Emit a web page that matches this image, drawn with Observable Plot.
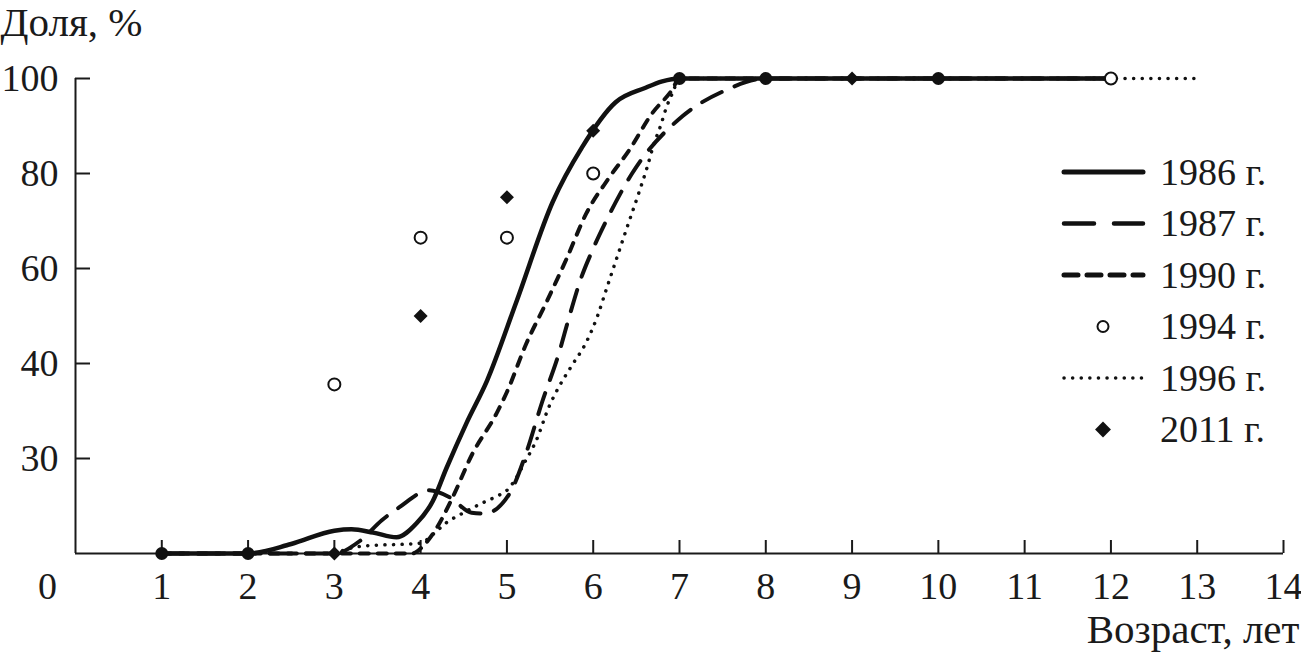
<!DOCTYPE html>
<html><head><meta charset="utf-8">
<script src="https://cdn.jsdelivr.net/npm/d3@7"></script>
<script src="https://cdn.jsdelivr.net/npm/@observablehq/plot@0.6"></script>
<style>
body{margin:0;background:#fff}
#chart{position:relative;width:1301px;height:660px}
</style>
</head><body><div id="chart"></div>
<script>
// ---- data ----
const xTicks = [1,2,3,4,5,6,7,8,9,10,11,12,13,14];
const yTickValues = [20,40,60,80,100];
const yTickLabels = ["30","40","60","80","100"];
const originLabel = "0";
const yTitle = "Доля, %";
const xTitle = "Возраст, лет";
const seriesNames = ["1986 г.","1987 г.","1990 г.","1994 г.","1996 г.","2011 г."];

const age1986 = [1,2,2.5,3,3.2,3.45,3.72,3.95,4.14,4.3,4.53,4.77,5.11,5.53,5.87,6.26,6.6,6.8,7,8,9,10,11,12];
const share1986 = [0,0,2,4.8,5.1,4.4,3.4,6.3,11,18,27.4,36.4,53,74,85.5,95,98,99.4,100,100,100,100,100,100];

const age1987 = [1,2,3,3.3,3.55,3.75,4.1,4.34,4.59,4.74,5.03,5.22,5.41,5.6,5.72,5.86,5.99,6.15,6.45,7.03,7.53,8,9,10,11,12];
const share1987 = [0,0,0,2.7,7,9.7,13.3,11.8,8.6,8.4,12.6,21,32,42,49.7,58,63.8,70,80,92,97.5,100,100,100,100,100];

const age1990 = [1,2,3,3.9,4.05,4.19,4.37,4.6,4.88,5.0,5.22,5.46,5.69,5.92,6.18,6.42,6.68,6.91,7,8,9,10,11,12];
const share1990 = [0,0,0,0,2,5.5,11.8,21,29.5,34,44,53,62,71.6,79,85,92.6,97.5,100,100,100,100,100,100];

const age1996 = [3,3.3,4,4.14,4.3,4.5,4.7,4.9,5.0,5.09,5.2,5.34,5.49,5.6,5.75,5.92,6.05,6.15,6.26,6.38,6.53,6.62,6.7,6.78,6.85,6.92,7,8,9,10,11,12,13];
const share1996 = [0,1.5,2.2,4,6.5,8.6,10.5,12.2,13.3,15.4,19,23.8,31,35,39.5,44.5,50,55.5,61.5,68,76,81,86,90,94,97,100,100,100,100,100,100,100];

const age1994 = [3,4,5,6,12];
const share1994 = [35.6,66.5,66.5,80,100];

const age2011 = [3,4,5,6,9];
const share2011 = [0,50,75,89,100];

const ageDots = [1,2,7,8,10];
const shareDots = [0,0,100,100,100];

// ---- styles ----
const FONT = "Liberation Serif, Times New Roman, serif";
const FS = 38;
const FS_TITLE = 41;
const lineStyle = {
  "1986 г.": {strokeWidth: 4.5, dash: null, legendDash: null, legendWidth: 5},
  "1987 г.": {strokeWidth: 4, dash: "22,14", legendDash: "30,20", legendWidth: 4.5},
  "1990 г.": {strokeWidth: 4, dash: "9,9", legendDash: "14,9", legendWidth: 5},
  "1996 г.": {strokeWidth: 3.5, dash: "0.1,8.5", legendDash: "0.1,8.5", legendWidth: 3.5}
};

const toRows = (xs, ys) => xs.map((x, i) => ({x, y: ys[i]}));
const lines = [
  ["1986 г.", toRows(age1986, share1986)],
  ["1987 г.", toRows(age1987, share1987)],
  ["1990 г.", toRows(age1990, share1990)],
  ["1996 г.", toRows(age1996, share1996)]
];

const marks = [];
marks.push(Plot.ruleX([0], {stroke: "#1a1a1a", strokeWidth: 2}));
marks.push(Plot.ruleY([0], {stroke: "#1a1a1a", strokeWidth: 2}));
marks.push(Plot.axisX(xTicks, {tickSize: -13, tickPadding: 32, strokeWidth: 2, fontSize: FS, fill: "#1a1a1a", label: null}));
marks.push(Plot.axisY(yTickValues, {tickSize: -15, tickPadding: 32, strokeWidth: 2, fontSize: FS, fill: "#1a1a1a", label: null,
  tickFormat: d => yTickLabels[yTickValues.indexOf(d)]}));
for (const name of ["1996 г.","1987 г.","1990 г.","1986 г."]) {
  const data = lines.find(l => l[0] === name)[1];
  const s = lineStyle[name];
  marks.push(Plot.line(data, {x: "x", y: "y", curve: "monotone-x", stroke: "#111",
    strokeWidth: s.strokeWidth, strokeDasharray: s.dash, strokeLinecap: "round", strokeLinejoin: "round"}));
}
marks.push(Plot.dot(toRows(ageDots, shareDots), {x: "x", y: "y", r: 6.5, fill: "#111", stroke: "none"}));
marks.push(Plot.dot(toRows(age2011, share2011), {x: "x", y: "y", symbol: "diamond2", r: 6.3, fill: "#111", stroke: "none"}));
marks.push(Plot.dot(toRows(age1994, share1994), {x: "x", y: "y", r: 6, fill: "white", stroke: "#111", strokeWidth: 2}));
marks.push(Plot.text([originLabel], {x: () => 0, y: () => 0, dx: -28, dy: 19, lineAnchor: "top", fontSize: FS, fill: "#1a1a1a"}));
marks.push(Plot.text([yTitle], {frameAnchor: "top-left", dx: -75, dy: -56, textAnchor: "start", lineAnchor: "middle", fontSize: FS_TITLE, fill: "#1a1a1a"}));
marks.push(Plot.text([xTitle], {frameAnchor: "bottom-right", dx: 16, dy: 76, textAnchor: "end", lineAnchor: "middle", fontSize: FS_TITLE, fill: "#1a1a1a"}));

const chart = Plot.plot({
  width: 1301, height: 660,
  marginLeft: 75, marginRight: 18, marginTop: 78, marginBottom: 107,
  x: {domain: [0, 14]},
  y: {domain: [0, 100]},
  style: {fontFamily: FONT, fontSize: FS + "px", background: "white", color: "#1a1a1a", overflow: "visible"},
  marks
});
document.getElementById("chart").appendChild(chart);

// ---- legend ----
const svg = d3.select(chart);
const lg = svg.append("g").attr("font-family", FONT).attr("font-size", FS).attr("text-anchor", "start");
const rowY0 = 172, rowStep = 51.5, lx0 = 1062, lx1 = 1145, ltx = 1160;
seriesNames.forEach((name, i) => {
  const y = rowY0 + i * rowStep;
  if (lineStyle[name]) {
    const s = lineStyle[name];
    lg.append("line").attr("x1", lx0 + 2).attr("x2", lx1 - 2).attr("y1", y).attr("y2", y)
      .attr("stroke", "#111").attr("stroke-width", s.legendWidth)
      .attr("stroke-dasharray", s.legendDash).attr("stroke-linecap", "round");
  } else if (name === "1994 г.") {
    lg.append("circle").attr("cx", 1103).attr("cy", y).attr("r", 5.5)
      .attr("fill", "white").attr("stroke", "#111").attr("stroke-width", 2);
  } else {
    lg.append("path").attr("d", d3.symbol(d3.symbolDiamond2, 160)()).attr("transform", `translate(1103,${y})`).attr("fill", "#111");
  }
  lg.append("text").attr("x", ltx).attr("y", y).attr("dy", "0.33em").attr("text-anchor", "start").attr("fill", "#1a1a1a").text(name);
});
</script>
</body></html>
